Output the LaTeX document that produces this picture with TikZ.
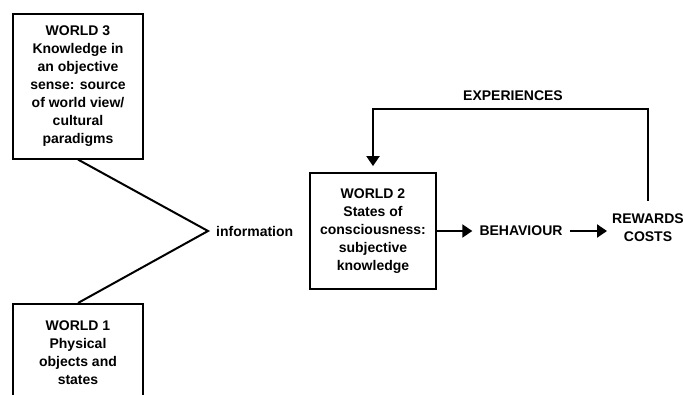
\documentclass[tikz,border=0pt]{standalone}
\usepackage{fontspec}
\setmainfont{Liberation Sans}
\usetikzlibrary{arrows.meta}
\begin{document}
\begin{tikzpicture}[x=1pt,y=-1pt,
  lbl/.style={font=\bfseries\fontsize{14}{18}\selectfont, align=center, inner sep=2pt},
  world/.style={lbl, draw, line width=1.8pt, minimum width=130pt, inner xsep=4pt},
  link/.style={line width=2pt},
  flow/.style={line width=2pt, -{Triangle[length=10pt,width=13pt]}},
]
\useasboundingbox (0,0) rectangle (683,394);
\fill[white] (0,0) rectangle (683,394);

% the three worlds
\node[world, anchor=north, inner ysep=12pt] (w3) at (78,13)
  {WORLD 3\\Knowledge in\\an objective\\sense: source\\of world view/\\cultural\\paradigms};
\node[world, anchor=north, inner ysep=17pt] (w1) at (78,303)
  {WORLD 1\\Physical\\objects and\\states};
\node[world, minimum width=126pt, minimum height=116pt] (w2) at (373,231)
  {WORLD 2\\States of\\consciousness:\\subjective\\knowledge};

% worlds 3 and 1 converge into information
\coordinate (apex) at (208,231);
\draw[link] (w3.south) -- (apex) -- (w1.north);
\node[lbl, anchor=west] (info) at (214,231) {information};

% behaviour chain
\node[lbl] (beh) at (521,231) {BEHAVIOUR};
\node[lbl] (rc) at (648,228) {REWARDS\\COSTS};
\draw[flow] (w2.east) -- ([xshift=-5pt]beh.west);
\draw[flow] ([xshift=5pt]beh.east) -- ([xshift=-3pt]beh.east -| rc.west);

% feedback loop
\node[lbl] (exp) at (513,96) {EXPERIENCES};
\draw[flow] ([yshift=11pt]rc.north) -- (rc.north |- 0,109) -| ([yshift=6pt]w2.north);
\end{tikzpicture}
\end{document}
